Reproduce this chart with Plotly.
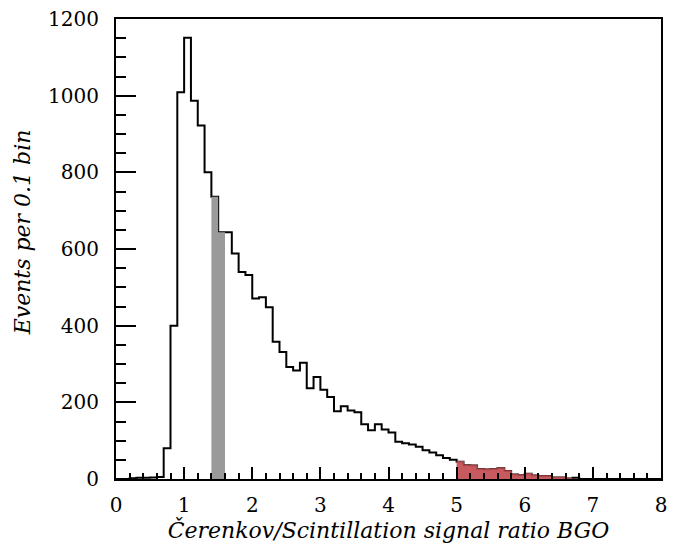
import numpy as np
import plotly.graph_objects as go

# ---- data (events per 0.1 bin, bins from 0.0 to 8.0) ----
bin_width = 0.1
bin_lo = 0.0
counts = [
    0, 0, 2, 3, 3, 4, 5, 80, 400, 1009,          # 0.0 - 0.9
    1151, 987, 922, 800, 736, 644, 644, 588, 540, 532,   # 1.0 - 1.9
    471, 474, 448, 358, 331, 292, 283, 303, 237, 266,    # 2.0 - 2.9
    233, 214, 177, 190, 179, 174, 143, 127, 143, 129,    # 3.0 - 3.9
    121, 97, 93, 90, 84, 75, 69, 62, 55, 50,             # 4.0 - 4.9
    45, 36, 35, 26, 25, 26, 28, 21, 12, 10,              # 5.0 - 5.9
    14, 9, 8, 8, 4, 4, 1, 3, 0, 0,                       # 6.0 - 6.9
    0, 0, 0, 0, 0, 0, 0, 0, 0, 0,                        # 7.0 - 7.9
]
gray_range = (1.4, 1.6)
red_range = (5.0, 6.7)

x_ticks = [0, 1, 2, 3, 4, 5, 6, 7, 8]
y_ticks = [0, 200, 400, 600, 800, 1000, 1200]

x_title = "Čerenkov/Scintillation signal ratio BGO"
y_title = "Events per 0.1 bin"

# ---- build step geometry ----
counts = np.array(counts, dtype=float)
edges = bin_lo + bin_width * np.arange(len(counts) + 1)
edges = np.round(edges, 3)
step_y = np.append(counts, counts[-1])


def region(lo, hi):
    m = (edges >= lo - 1e-9) & (edges <= hi + 1e-9)
    xs = edges[m]
    ys = step_y[m].copy()
    ys[-1] = ys[-2]
    return xs, ys


fig = go.Figure()

# outline
fig.add_trace(go.Scatter(
    x=edges, y=step_y, mode="lines", line_shape="hv",
    line=dict(color="black", width=2), showlegend=False, hoverinfo="skip"))

# grey band
gx, gy = region(*gray_range)
fig.add_trace(go.Scatter(
    x=gx, y=gy, mode="lines", line_shape="hv", fill="tozeroy",
    fillcolor="#9a9a9a", line=dict(color="#9a9a9a", width=0),
    showlegend=False, hoverinfo="skip"))

# red tail
rx, ry = region(*red_range)
fig.add_trace(go.Scatter(
    x=rx, y=ry, mode="lines", line_shape="hv", fill="tozeroy",
    fillcolor="#c65a5e", line=dict(color="#a84448", width=1.5),
    showlegend=False, hoverinfo="skip"))

font_family = "DejaVu Serif"

fig.update_layout(
    width=674, height=557,
    margin=dict(l=116, r=7, t=17, b=78),
    plot_bgcolor="white", paper_bgcolor="white",
    font=dict(family=font_family, size=20, color="black"),
    showlegend=False,
)

fig.update_xaxes(
    range=[0, 8], tickvals=x_ticks, ticktext=[str(v) for v in x_ticks],
    ticks="inside", ticklen=12, tickwidth=2, tickcolor="black",
    minor=dict(dtick=0.2, ticks="inside", ticklen=6, tickwidth=2, tickcolor="black"),
    showline=True, linecolor="black", linewidth=2, mirror=True,
    showgrid=False, zeroline=False, ticklabelstandoff=7,
    tickfont=dict(family=font_family, size=20),
    title=dict(text="<i>" + x_title + "</i>",
               font=dict(family=font_family, size=22), standoff=4),
)
fig.update_yaxes(
    range=[0, 1200], tickvals=y_ticks, ticktext=[str(v) for v in y_ticks],
    ticks="inside", ticklen=20, tickwidth=2, tickcolor="black",
    minor=dict(dtick=50, ticks="inside", ticklen=10, tickwidth=2, tickcolor="black"),
    showline=True, linecolor="black", linewidth=2, mirror=True,
    showgrid=False, zeroline=False, ticklabelstandoff=11,
    tickfont=dict(family=font_family, size=20),
)

# y-axis title placed slightly above centre, as in the original
fig.add_annotation(
    text="<i>" + y_title + "</i>", textangle=-90,
    xref="paper", yref="paper", x=-0.17, y=0.537,
    xanchor="center", yanchor="middle", showarrow=False,
    font=dict(family=font_family, size=22, color="black"),
)

fig.write_html("out.html")
